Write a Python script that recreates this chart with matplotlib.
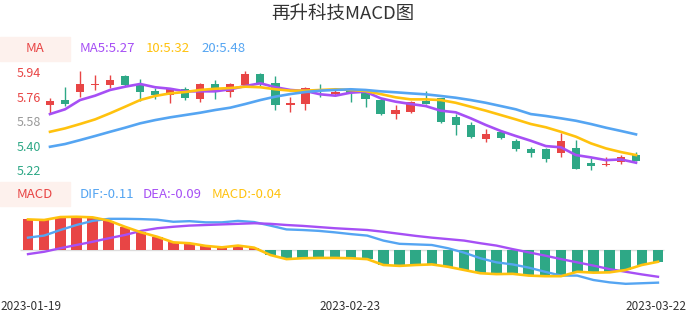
import matplotlib
matplotlib.use("Agg")
import matplotlib.pyplot as plt
import numpy as np

plt.rcParams['font.family'] = ['Noto Sans CJK SC', 'DejaVu Sans']

title = '再升科技MACD图'
dates = ['2023-01-19', '2023-02-23', '2023-03-22']
date_idx = [0, 20, 39]

# K线数据 (开, 收, 高, 低)
opens = [5.698, 5.732, 5.795, 5.847, 5.844, 5.913, 5.852, 5.800, 5.769, 5.815,
         5.739, 5.852, 5.795, 5.844, 5.923, 5.861, 5.698, 5.707, 5.812, 5.778,
         5.808, 5.795, 5.734, 5.629, 5.648, 5.729, 5.747, 5.612, 5.548, 5.448,
         5.501, 5.433, 5.374, 5.374, 5.347, 5.384, 5.274, 5.260, 5.281, 5.330]
closes = [5.729, 5.707, 5.852, 5.850, 5.881, 5.844, 5.795, 5.769, 5.813, 5.747,
          5.852, 5.803, 5.852, 5.923, 5.852, 5.698, 5.714, 5.820, 5.808, 5.795,
          5.784, 5.739, 5.629, 5.661, 5.720, 5.707, 5.575, 5.548, 5.465, 5.484,
          5.457, 5.372, 5.347, 5.299, 5.435, 5.227, 5.249, 5.264, 5.313, 5.288]
highs = [5.747, 5.828, 5.947, 5.918, 5.918, 5.918, 5.886, 5.820, 5.820, 5.828,
         5.861, 5.881, 5.857, 5.947, 5.930, 5.911, 5.759, 5.828, 5.852, 5.820,
         5.820, 5.808, 5.747, 5.698, 5.729, 5.800, 5.752, 5.629, 5.575, 5.521,
         5.504, 5.448, 5.387, 5.385, 5.494, 5.440, 5.310, 5.318, 5.330, 5.350]
lows = [5.639, 5.690, 5.759, 5.808, 5.820, 5.839, 5.729, 5.739, 5.710, 5.734,
        5.720, 5.739, 5.759, 5.837, 5.832, 5.661, 5.648, 5.661, 5.756, 5.773,
        5.722, 5.681, 5.622, 5.592, 5.641, 5.705, 5.563, 5.479, 5.457, 5.428,
        5.448, 5.362, 5.313, 5.281, 5.318, 5.225, 5.220, 5.249, 5.262, 5.288]

ma5 = [5.631, 5.666, 5.734, 5.766, 5.808, 5.832, 5.852, 5.828, 5.817, 5.798,
       5.798, 5.798, 5.813, 5.837, 5.857, 5.828, 5.808, 5.800, 5.776, 5.766,
       5.788, 5.795, 5.747, 5.722, 5.705, 5.690, 5.656, 5.644, 5.600, 5.551,
       5.507, 5.470, 5.435, 5.396, 5.387, 5.330, 5.313, 5.293, 5.298, 5.274]
ma10 = [5.501, 5.526, 5.558, 5.592, 5.637, 5.685, 5.734, 5.764, 5.783, 5.793,
        5.808, 5.817, 5.822, 5.832, 5.828, 5.813, 5.803, 5.803, 5.808, 5.813,
        5.808, 5.800, 5.778, 5.754, 5.739, 5.739, 5.734, 5.714, 5.685, 5.656,
        5.624, 5.592, 5.558, 5.534, 5.501, 5.465, 5.416, 5.379, 5.352, 5.330]
ma20 = [5.391, 5.411, 5.440, 5.470, 5.501, 5.531, 5.563, 5.587, 5.607, 5.624,
        5.641, 5.661, 5.678, 5.705, 5.734, 5.759, 5.778, 5.793, 5.803, 5.808,
        5.813, 5.808, 5.798, 5.791, 5.783, 5.776, 5.764, 5.751, 5.734, 5.714,
        5.690, 5.666, 5.631, 5.617, 5.600, 5.582, 5.558, 5.531, 5.507, 5.482]

# MACD 数据
dif = [0.042, 0.049, 0.068, 0.085, 0.099, 0.106, 0.106, 0.105, 0.103, 0.096,
       0.098, 0.094, 0.094, 0.099, 0.095, 0.083, 0.070, 0.068, 0.065, 0.060,
       0.054, 0.049, 0.032, 0.021, 0.019, 0.017, 0.006, -0.009, -0.028, -0.042,
       -0.049, -0.060, -0.074, -0.087, -0.087, -0.102, -0.110, -0.115, -0.113, -0.111]
dea = [-0.014, -0.006, 0.006, 0.017, 0.028, 0.040, 0.051, 0.065, 0.074, 0.079,
       0.083, 0.085, 0.087, 0.089, 0.091, 0.089, 0.085, 0.082, 0.078, 0.074,
       0.071, 0.068, 0.062, 0.055, 0.048, 0.042, 0.037, 0.032, 0.023, 0.015,
       0.003, -0.008, -0.019, -0.031, -0.042, -0.053, -0.065, -0.074, -0.083, -0.091]
macd = [0.104, 0.102, 0.112, 0.113, 0.111, 0.100, 0.079, 0.060, 0.045, 0.026,
        0.023, 0.014, 0.009, 0.015, 0.008, -0.017, -0.031, -0.028, -0.027, -0.027,
        -0.028, -0.031, -0.051, -0.054, -0.051, -0.049, -0.057, -0.068, -0.079, -0.082,
        -0.081, -0.087, -0.089, -0.089, -0.074, -0.077, -0.076, -0.068, -0.051, -0.040]

price_ticks = [5.22, 5.40, 5.58, 5.76, 5.94]
tick_colors = ['#2ea886', '#2ea886', '#999999', '#e84545', '#e84545']

RED = '#e84545'
GREEN = '#2ea886'
PURPLE = '#a64ff5'
YELLOW = '#ffc20e'
BLUE = '#55a5f2'

W, H = 686, 320
fig = plt.figure(figsize=(W / 100, H / 100), dpi=100)

def fx(px):
    return px / W

def fy(py):
    return 1 - py / H

# ---- K线区域 ----
ax = fig.add_axes([fx(45), fy(180), fx(641), 120 / H])
n = len(closes)
x = np.arange(n)
sp = 15.03
ax.set_xlim(-5 / sp, 39 + 50 / sp)
ax.set_ylim(5.147, 6.028)
for i in range(n):
    c = RED if closes[i] >= opens[i] else GREEN
    ax.vlines(i, lows[i], highs[i], color=c, lw=1.0, zorder=2)
    lo = min(opens[i], closes[i])
    h = max(abs(closes[i] - opens[i]), 0.003)
    ax.bar(i, h, bottom=lo, width=0.55, color=c, zorder=3)
ax.plot(x, ma5, color=PURPLE, lw=1.9, zorder=4)
ax.plot(x, ma10, color=YELLOW, lw=1.9, zorder=4)
ax.plot(x, ma20, color=BLUE, lw=1.9, zorder=4)
ax.set_yticks(price_ticks)
ax.set_yticklabels(['%.2f' % t for t in price_ticks], fontsize=9)
for lbl, col in zip(ax.get_yticklabels(), tick_colors):
    lbl.set_color(col)
ax.tick_params(axis='y', length=0, pad=3)
ax.set_xticks([])
for s in ax.spines.values():
    s.set_visible(False)
ax.patch.set_alpha(0)

# ---- MACD 区域 ----
ax2 = fig.add_axes([0, fy(290), 1, 80 / H])
sp2 = 16.154
ax2.set_xlim(-28 / sp2, 39 + 28 / sp2)
ax2.set_ylim(-0.136, 0.136)
ax2.hlines(0, -0.5, 39.4, color='#dddddd', lw=1, zorder=1)
bar_colors = [RED if v >= 0 else GREEN for v in macd]
ax2.bar(x, macd, width=0.66, color=bar_colors, zorder=2)
ax2.plot(x, dif, color=BLUE, lw=1.7, zorder=3)
ax2.plot(x, dea, color=PURPLE, lw=1.7, zorder=3)
ax2.plot(x, macd, color=YELLOW, lw=1.9, zorder=4)
ax2.axis('off')

# ---- 文字 ----
fig.text(0.5, fy(15), title, ha='center', va='center', fontsize=13.3, color='#333333')

for py, name in [(49, 'MA'), (194, 'MACD')]:
    fig.patches.append(plt.Rectangle((0, fy(py + 12)), fx(70), 24 / H,
                                     transform=fig.transFigure, color='#fdf1ed', zorder=0))
    fig.text(fx(35), fy(py), name, ha='center', va='center', fontsize=9.5, color=RED)

ma_leg = [(80, 'MA5:5.27', PURPLE), (146, '10:5.32', YELLOW), (201, '20:5.48', BLUE)]
for px, s, c in ma_leg:
    fig.text(fx(px), fy(49), s, ha='left', va='center', fontsize=9.5, color=c)
macd_leg = [(80, 'DIF:-0.11', BLUE), (143, 'DEA:-0.09', PURPLE), (212, 'MACD:-0.04', YELLOW)]
for px, s, c in macd_leg:
    fig.text(fx(px), fy(194), s, ha='left', va='center', fontsize=9.5, color=c)

fig.text(0, fy(306), dates[0], ha='left', va='center', fontsize=8.5, color='#333333')
fig.text(fx(350), fy(306), dates[1], ha='center', va='center', fontsize=8.5, color='#333333')
fig.text(1, fy(306), dates[2], ha='right', va='center', fontsize=8.5, color='#333333')

fig.savefig('out.png', dpi=100)
